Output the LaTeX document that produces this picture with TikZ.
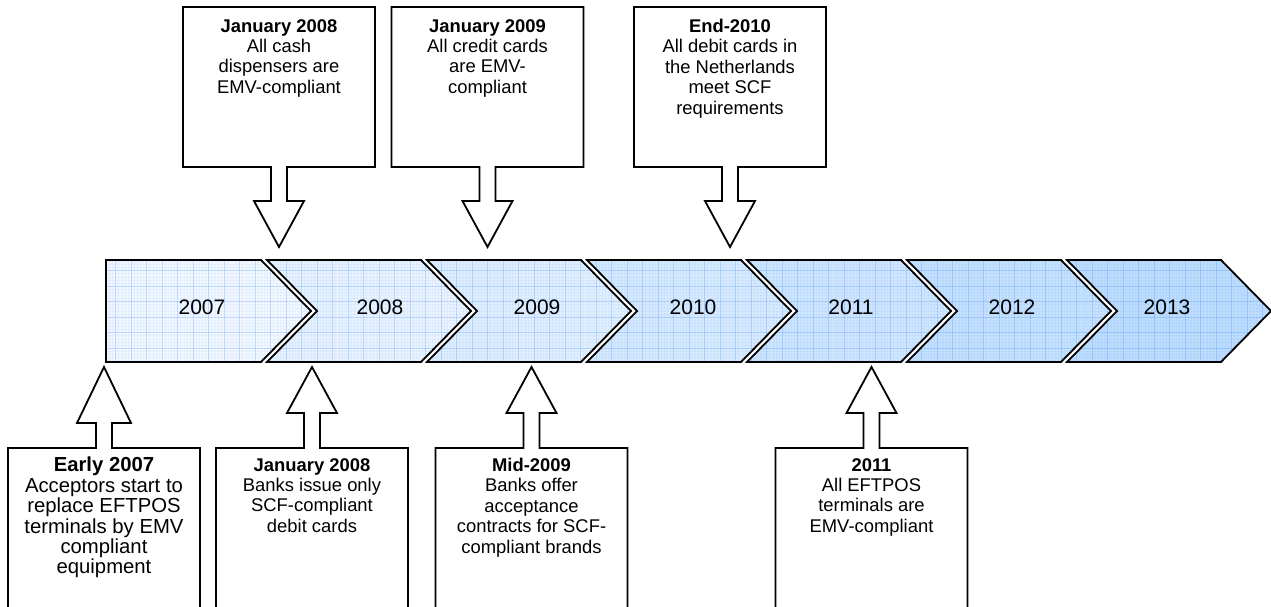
\documentclass[tikz,border=0pt]{standalone}
\usepackage{fontspec}
\setmainfont{Liberation Sans}
\begin{document}
\begin{tikzpicture}[x=1pt,y=-1pt,
  outline/.style={draw=black,line width=1.8pt,line join=miter},
  callout/.style={outline,fill=white},
  yearlabel/.style={inner sep=0pt,font=\fontsize{21}{24}\selectfont},
  notetext/.style={inner sep=0pt,align=center,anchor=north,
    font=\fontsize{#1}{20.4}\selectfont},
  notetext/.default=18.4,
  gridmajor/.style={draw=blue!60!cyan,opacity=0.16,line width=0.7pt},
  gridminor/.style={draw=blue!60!cyan,opacity=0.045,line width=0.4pt}]
\definecolor{chevlight}{RGB}{243,248,254}
\definecolor{chevdark}{RGB}{190,221,252}
\clip (0,0) rectangle (1271,607);
\fill[white] (0,0) rectangle (1271,607);

% timeline chevrons, one per year
\foreach \k/\yr/\tx in {0/2007/202,1/2008/380,2/2009/537,3/2010/693,
                          4/2011/851,5/2012/1012,6/2013/1167}{
  \pgfmathsetmacro\p{\k*100/6}
  \pgfmathsetmacro\q{min(100,\k*100/6+6)}
  \colorlet{chevR}{chevdark!\p!chevlight}
  \colorlet{chevL}{chevdark!\q!chevlight}
  \pgfmathsetmacro\L{\k==0 ? 106 : 107+160*\k}
  \pgfmathsetmacro\N{\k==0 ? 106 : 157+160*\k}
  \pgfmathsetmacro\R{261+160*\k}
  \pgfmathsetmacro\T{311+160*\k}
  \path[left color=chevL,right color=chevR]
    (\L,260) -- (\R,260) -- (\T,311) -- (\R,362) -- (\L,362) -- (\N,311) -- cycle;
  \begin{scope}
    \clip (\L,260) -- (\R,260) -- (\T,311) -- (\R,362) -- (\L,362) -- (\N,311) -- cycle;
    \foreach \gx in {0,...,375}{\draw[gridminor] (100+\gx*3.1,255) -- (100+\gx*3.1,367);}
    \foreach \gy in {0,...,37}{\draw[gridminor] (100,255+\gy*3.1) -- (1275,255+\gy*3.1);}
    \foreach \gx in {0,...,75}{\draw[gridmajor] (100+\gx*15.5,255) -- (100+\gx*15.5,367);}
    \foreach \gy in {0,...,7}{\draw[gridmajor] (100,255+\gy*15.5) -- (1275,255+\gy*15.5);}
  \end{scope}
  \draw[outline]
    (\L,260) -- (\R,260) -- (\T,311) -- (\R,362) -- (\L,362) -- (\N,311) -- cycle;
  \node[yearlabel] (y\yr) at (\tx,307) {\yr};
}

% callouts above the timeline, pointing down
\foreach \c/\nm/\title/\body in {
  279/a/{January 2008}/{All cash\\dispensers are\\EMV-compliant},
  487.5/b/{January 2009}/{All credit cards\\are EMV-\\compliant},
  730/c/{End-2010}/{All debit cards in\\the Netherlands\\meet SCF\\requirements}}{
  \draw[callout] (\c-96,7) -- (\c+96,7) -- (\c+96,167) -- (\c+8,167) -- (\c+8,201)
    -- (\c+25,201) -- (\c,247) -- (\c-25,201) -- (\c-8,201) -- (\c-8,167)
    -- (\c-96,167) -- cycle;
  \node[notetext] (top\nm) at (\c,19) {\textbf{\title}\\\body};
}

% callouts below the timeline, pointing up
\foreach \c/\nm/\hw/\hb/\fs/\ty/\title/\body in {
  104/a/27/423/20.3/457/{Early 2007}/{Acceptors start to\\replace EFTPOS\\terminals by EMV\\compliant\\equipment},
  312/b/25/413/18.4/458/{January 2008}/{Banks issue only\\SCF-compliant\\debit cards},
  531.5/c/25/413/18.4/458/{Mid-2009}/{Banks offer\\acceptance\\contracts for SCF-\\compliant brands},
  871.5/d/25/413/18.4/458/{2011}/{All EFTPOS\\terminals are\\EMV-compliant}}{
  \draw[callout] (\c,367) -- (\c+\hw,\hb) -- (\c+8,\hb) -- (\c+8,448) -- (\c+96,448)
    -- (\c+96,620) -- (\c-96,620) -- (\c-96,448) -- (\c-8,448) -- (\c-8,\hb)
    -- (\c-\hw,\hb) -- cycle;
  \node[notetext=\fs] (bot\nm) at (\c,\ty) {\textbf{\title}\\\body};
}
\end{tikzpicture}
\end{document}
